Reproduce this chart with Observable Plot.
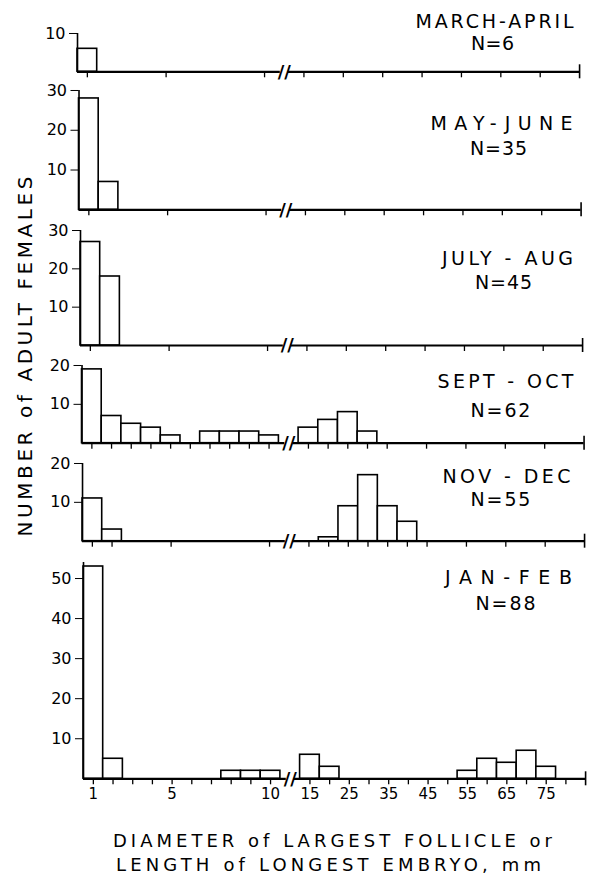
<!DOCTYPE html>
<html><head><meta charset="utf-8">
<script src="https://cdn.jsdelivr.net/npm/d3@7"></script>
<script src="https://cdn.jsdelivr.net/npm/@observablehq/plot@0.6"></script>
<style>
body{margin:0;background:#fff;}
#chart{position:relative;width:590px;height:880px;overflow:hidden;background:#fff;}
#chart svg{position:absolute;left:0;overflow:visible;background:transparent;}
</style></head><body><div id="chart"></div>
<script>
// ---------------- DATA ----------------
const periods = ["MARCH-APRIL", "MAY-JUNE", "JULY - AUG", "SEPT - OCT", "NOV - DEC", "JAN-FEB"];
const sampleSizes = [6, 35, 45, 62, 55, 88];
// bin centres, mm (1 mm bins up to 10, then 5 mm bins)
const binMM = [1,2,3,4,5,6,7,8,9,10, 15,20,25,30,35,40,45,50,55,60,65,70,75,80];
const marchApril = [6,0,0,0,0,0,0,0,0,0, 0,0,0,0,0,0,0,0,0,0,0,0,0,0];
const mayJune    = [28,7,0,0,0,0,0,0,0,0, 0,0,0,0,0,0,0,0,0,0,0,0,0,0];
const julyAug    = [27,18,0,0,0,0,0,0,0,0, 0,0,0,0,0,0,0,0,0,0,0,0,0,0];
const septOct    = [19,7,5,4,2,0,3,3,3,2, 4,6,8,3,0,0,0,0,0,0,0,0,0,0];
const novDec     = [11,3,0,0,0,0,0,0,0,0, 0,1,9,17,9,5,0,0,0,0,0,0,0,0];
const janFeb     = [53,5,0,0,0,0,0,2,2,2, 6,3,0,0,0,0,0,0,2,5,4,7,3,0];
const panelCounts = [marchApril, mayJune, julyAug, septOct, novDec, janFeb];
const yMax = [10, 30, 30, 20, 20, 54];
const yTicks = [[10], [10,20,30], [10,20,30], [10,20], [10,20], [10,20,30,40,50]];
const xTicksMM = [
  [1,5,10, 15,25,35,45,55,65,75],
  [1,5,10, 15,25,35,45,55,65,75],
  [1,5,10, 15,25,35,45,55,65,75],
  [1,2,3,4,5,6,7,8,9,10, 15,20,25,30,35,45,55,65,75],
  [1,2,5,10, 15,20,25,30,35,40,45,55,65,75],
  [1,2,3,4,5,6,7,8,9,10, 15,20,25,30,35,40,45,50,55,60,65,70,75,80]
];
const xTickLabels = ["1","5","10","15","25","35","45","55","65","75"];
const xTickLabelMM = [1,5,10,15,25,35,45,55,65,75];
const breakAfterMM = 10;
const axisEndMM = 85;
const yTitle = "NUMBER of ADULT FEMALES";
const xTitle = ["DIAMETER of LARGEST FOLLICLE or", "LENGTH of LONGEST EMBRYO, mm"];

// ---------------- LAYOUT ----------------
const FONT = "DejaVu Sans";
const layout = [
  {left: 77,   top: 32.7,  base: 71,    tx: 494, ty: 20.7,  nx: 492, ny: 43,  tw: 158, nw: 43},
  {left: 78.5, top: 90,    base: 209.3, tx: 501, ty: 123,   nx: 498, ny: 148, tw: 142, nw: 57},
  {left: 80,   top: 230,   base: 345,   tx: 507, ty: 258,   nx: 503, ny: 282, tw: 131, nw: 57},
  {left: 81.5, top: 365,   base: 442.7, tx: 505, ty: 381.7, nx: 500, ny: 410, tw: 136, nw: 60},
  {left: 82,   top: 463.3, base: 541,   tx: 506, ty: 476.7, nx: 500, ny: 500, tw: 128, nw: 60},
  {left: 83,   top: 561.7, base: 778,   tx: 508, ty: 577,   nx: 505, ny: 603, tw: 127, nw: 60}
];
const pxPerSlot = 19.69;
const slotOf = mm => mm <= breakAfterMM ? mm : breakAfterMM + 2 + (mm - 15) / 5;
const breakSlot = breakAfterMM + 1;
const slotStart = 0.5;
const slotEnd = slotOf(axisEndMM);
const textWidths = new Map();

const root = document.getElementById("chart");

panelCounts.forEach((counts, i) => {
  const L = layout[i];
  const last = i === panelCounts.length - 1;
  const mt = 28, mb = last ? 110 : 14;
  const H = mt + (L.base - L.top) + mb;
  const rightEdge = L.left + (slotEnd - slotStart) * pxPerSlot;
  const bars = binMM.map((mm, j) => ({slot: slotOf(mm), count: counts[j]})).filter(d => d.count > 0);
  const label = periods[i];
  const nLabel = "N=" + sampleSizes[i];
  textWidths.set(label, L.tw);
  textWidths.set(nLabel, L.nw);

  const marks = [
    Plot.rect(bars, {x1: d => d.slot - 0.5, x2: d => d.slot + 0.5, y1: 0, y2: "count",
      fill: "white", stroke: "black", strokeWidth: 1.6}),
    Plot.ruleX([slotStart], {x: d => d, y1: 0, y2: yMax[i], stroke: "black", strokeWidth: 1.6}),
    Plot.ruleY([{a: slotStart, b: breakSlot - 0.2}, {a: breakSlot + 0.2, b: slotEnd}],
      {y: 0, x1: "a", x2: "b", stroke: "black", strokeWidth: 2.2}),
    Plot.ruleX(xTicksMM[i].map(slotOf), {x: d => d, y1: 0, y2: 0, insetBottom: -6, stroke: "black", strokeWidth: 1.3}),
    Plot.ruleX([slotEnd], {x: d => d, y1: 0, y2: 0, insetTop: -7, insetBottom: -7, stroke: "black", strokeWidth: 1.6}),
    Plot.text([breakSlot], {x: d => d, y: 0, text: () => "//", fontSize: 18, fontWeight: "bold",
      lineAnchor: "middle", fill: "black", fontFamily: FONT}),
    Plot.text([label], {frameAnchor: "top-left", dx: L.tx - L.left, dy: L.ty - L.top, text: d => d,
      textAnchor: "middle", lineAnchor: "middle", fontSize: 19, fontFamily: FONT, fill: "black"}),
    Plot.text([nLabel], {frameAnchor: "top-left", dx: L.nx - L.left, dy: L.ny - L.top, text: d => d,
      textAnchor: "middle", lineAnchor: "middle", fontSize: 19, fontFamily: FONT, fill: "black"})
  ];
  if (i === 3) {
    textWidths.set(yTitle, 360);
    marks.push(Plot.text([yTitle], {frameAnchor: "top-left", dx: 25 - L.left, dy: 356 - L.top, rotate: -90,
      text: d => d, textAnchor: "middle", lineAnchor: "middle", fontSize: 20, fontFamily: FONT, fill: "black"}));
  }
  if (last) {
    marks.push(Plot.text(xTickLabelMM, {x: d => slotOf(d), y: 0, text: (d, j) => xTickLabels[j], dy: 15,
      lineAnchor: "middle", fontSize: 15, fontFamily: FONT, fill: "black"}));
    textWidths.set(xTitle[0], 439);
    textWidths.set(xTitle[1], 425);
    marks.push(Plot.text([xTitle[0]], {frameAnchor: "top-left", dx: 332 - L.left, dy: 840 - L.top, text: d => d,
      textAnchor: "middle", lineAnchor: "middle", fontSize: 18, fontFamily: FONT, fill: "black"}));
    marks.push(Plot.text([xTitle[1]], {frameAnchor: "top-left", dx: 328 - L.left, dy: 864 - L.top, text: d => d,
      textAnchor: "middle", lineAnchor: "middle", fontSize: 18, fontFamily: FONT, fill: "black"}));
  }

  const el = Plot.plot({
    width: 590, height: H,
    marginLeft: L.left, marginRight: 590 - rightEdge, marginTop: mt, marginBottom: mb,
    x: {domain: [slotStart, slotEnd], axis: null},
    y: {domain: [0, yMax[i]], ticks: yTicks[i], tickSize: 8, tickPadding: 4, label: null, tickFormat: d => String(d)},
    style: {background: "transparent", overflow: "visible", fontFamily: FONT, fontSize: "16px", color: "black"},
    marks
  });
  el.style.top = (L.top - mt) + "px";
  root.appendChild(el);
});

// fit the hand-lettered label widths
root.querySelectorAll("text").forEach(t => {
  const w = textWidths.get(t.textContent);
  if (w) { t.setAttribute("textLength", w); t.setAttribute("lengthAdjust", "spacing"); }
});
</script></body></html>
